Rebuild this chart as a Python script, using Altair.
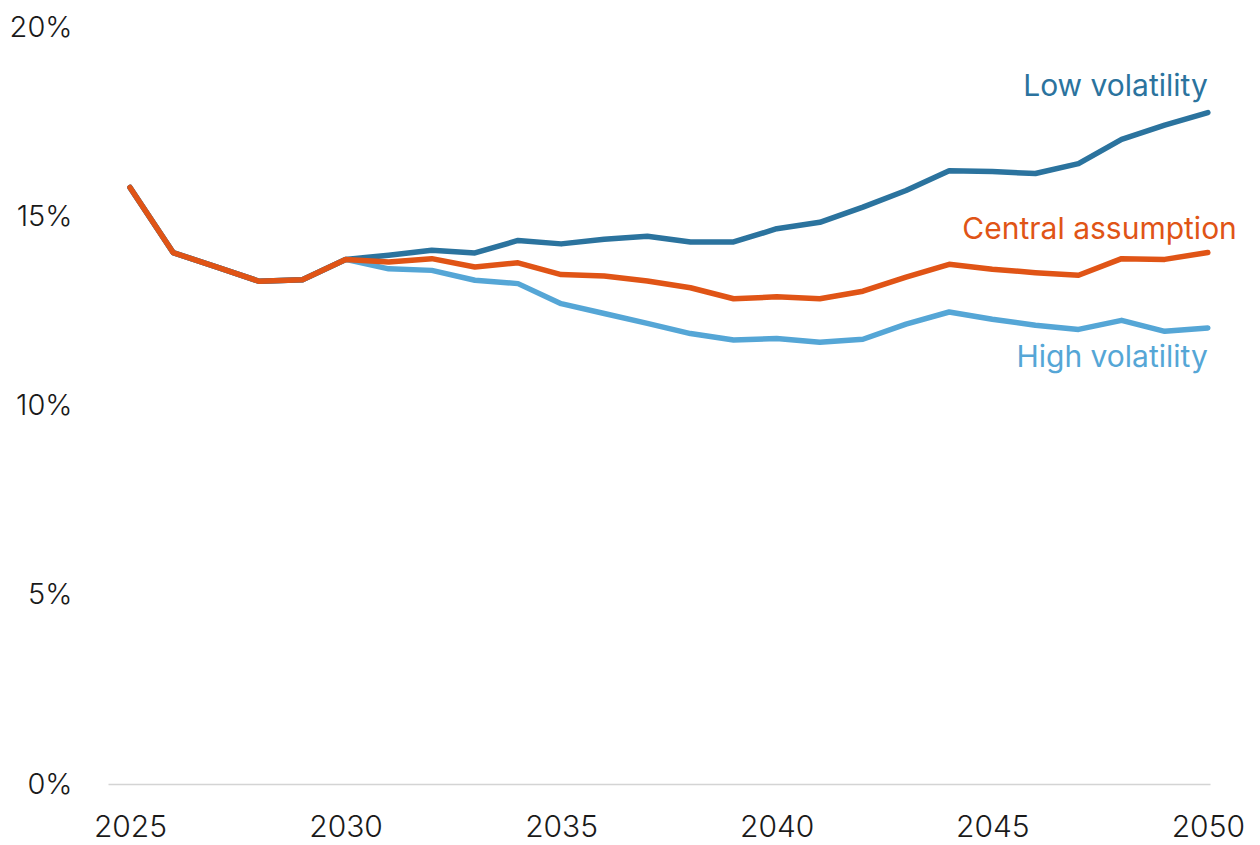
import altair as alt
import pandas as pd

years = list(range(2025, 2051))

low_volatility = [15.76, 14.04, 13.66, 13.28, 13.32, 13.86,
                  13.97, 14.10, 14.03, 14.36, 14.27, 14.39, 14.47, 14.32, 14.32,
                  14.67, 14.84, 15.24, 15.68, 16.20, 16.18, 16.13, 16.39, 17.03, 17.41, 17.74]
central_assumption = [15.76, 14.04, 13.66, 13.28, 13.32, 13.86,
                      13.79, 13.88, 13.66, 13.77, 13.46, 13.42, 13.29, 13.11, 12.82,
                      12.87, 12.82, 13.02, 13.39, 13.73, 13.60, 13.51, 13.44, 13.88, 13.86, 14.04]
high_volatility = [15.76, 14.04, 13.66, 13.28, 13.32, 13.86,
                   13.61, 13.57, 13.31, 13.22, 12.69, 12.43, 12.17, 11.90, 11.73,
                   11.77, 11.67, 11.75, 12.15, 12.47, 12.28, 12.12, 12.01, 12.25, 11.96, 12.05]

series_names = ["High volatility", "Low volatility", "Central assumption"]
series_colors = ["#55a6d6", "#2b739e", "#e05416"]
y_ticks = [0, 5, 10, 15, 20]
x_ticks = [2025, 2030, 2035, 2040, 2045, 2050]

rows = []
for name, vals in zip(series_names, [high_volatility, low_volatility, central_assumption]):
    for yr, v in zip(years, vals):
        rows.append({"year": yr, "value": v, "series": name})
df = pd.DataFrame(rows)

FONT = "Inter"

x_enc = alt.X("year:Q",
              scale=alt.Scale(domain=[2024.49, 2050.05], nice=False, zero=False),
              axis=alt.Axis(values=x_ticks, format="d", grid=False, ticks=False,
                            domain=True, domainColor="#d4d4d4", domainWidth=1.5,
                            labelFontSize=30, labelFont=FONT, labelFontWeight=300,
                            labelColor="#1a1a1a", labelPadding=28, title=None,
                            labelFlush=False))
y_enc = alt.Y("value:Q",
              scale=alt.Scale(domain=[0, 20], nice=False),
              axis=alt.Axis(values=y_ticks, labelExpr="datum.value + '%'", grid=False,
                            ticks=False, domain=False, labelFontSize=29, labelFont=FONT,
                            labelFontWeight=300, labelColor="#1a1a1a", labelPadding=36,
                            title=None))
color_enc = alt.Color("series:N", scale=alt.Scale(domain=series_names, range=series_colors),
                      legend=None)


def series_line(name):
    return alt.Chart(df[df["series"] == name]).mark_line(
        strokeWidth=5.5, strokeCap="round", strokeJoin="round"
    ).encode(x=x_enc, y=y_enc, color=color_enc, order=alt.Order("year:Q"))


last = df[df["year"] == 2050]


def end_label(name, dx, dy):
    return alt.Chart(last[last["series"] == name]).mark_text(
        align="right", baseline="middle", font=FONT, fontSize=30, dx=dx, dy=dy
    ).encode(x="year:Q", y="value:Q", text="series:N", color=color_enc)


lines = series_line("High volatility") + series_line("Low volatility") + \
    series_line("Central assumption")
labels = end_label("Low volatility", 0, -26) + end_label("Central assumption", 29, -23) + \
    end_label("High volatility", 0, 30)

chart = alt.layer(lines, labels).properties(
    width=1102, height=757,
    autosize=alt.AutoSizeParams(type="none"),
    padding={"left": 100, "top": 19, "right": 42, "bottom": 60},
).configure_view(stroke=None)

chart.save("out.html", embed_options={"renderer": "svg", "actions": False})
